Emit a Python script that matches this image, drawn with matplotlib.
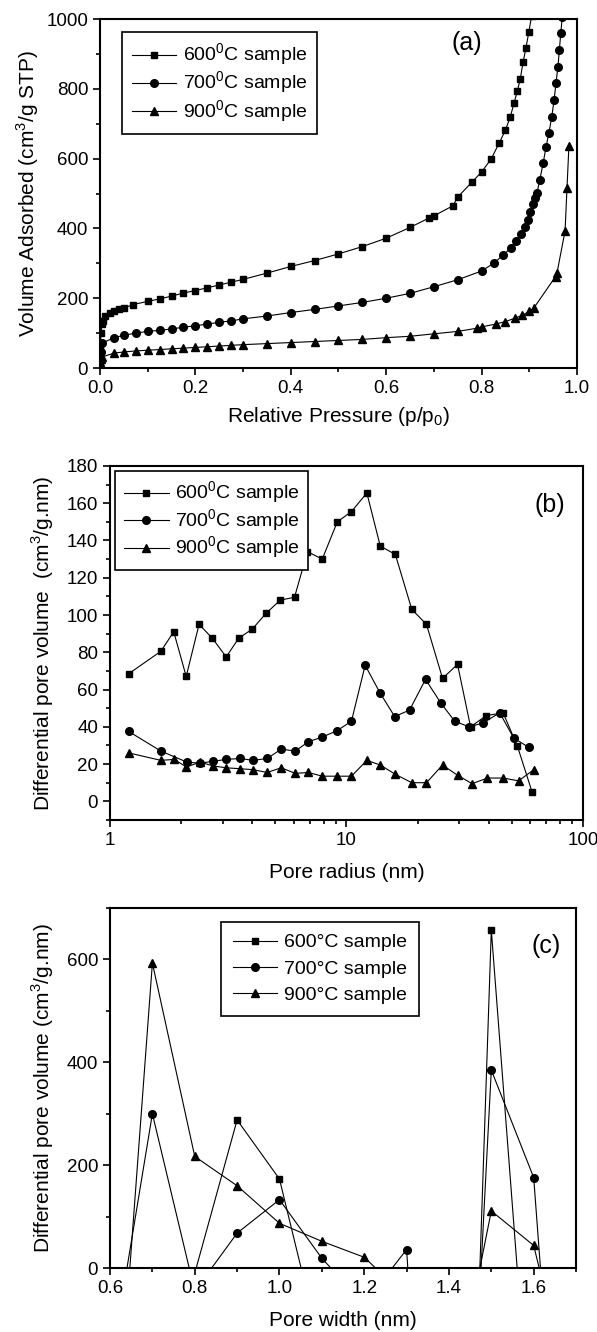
import matplotlib
matplotlib.use("Agg")
import matplotlib.pyplot as plt
from matplotlib.ticker import MultipleLocator, FuncFormatter

plt.rcParams["font.family"] = ["Liberation Sans", "DejaVu Sans"]
plt.rcParams["mathtext.fontset"] = "custom"
plt.rcParams["mathtext.rm"] = "Liberation Sans"

# ---- (a) N2 isotherms ----
p600 = [0.001, 0.002, 0.004, 0.006, 0.01, 0.02, 0.03, 0.04, 0.05, 0.07, 0.1, 0.125, 0.15,
        0.175, 0.2, 0.225, 0.25, 0.275, 0.3, 0.35, 0.4, 0.45, 0.5, 0.55, 0.6, 0.65, 0.69,
        0.7, 0.74, 0.75, 0.78, 0.8, 0.82, 0.837, 0.85, 0.86, 0.868, 0.875, 0.881, 0.887,
        0.893, 0.899, 0.905]
v600 = [60, 100, 125, 135, 148, 158, 163, 168, 172, 182, 191, 198, 206, 215, 222, 230, 238,
        246, 254, 272, 291, 308, 327, 348, 372, 403, 430, 436, 465, 490, 533, 562, 599, 645,
        682, 719, 759, 794, 828, 877, 917, 963, 1010]

p700 = [0.001, 0.003, 0.005, 0.03, 0.05, 0.075, 0.1, 0.125, 0.15, 0.175, 0.2, 0.225, 0.25,
        0.275, 0.3, 0.35, 0.4, 0.45, 0.5, 0.55, 0.6, 0.65, 0.7, 0.75, 0.8, 0.825, 0.845,
        0.862, 0.873, 0.882, 0.89, 0.897, 0.902, 0.907, 0.912, 0.916, 0.922, 0.929, 0.935,
        0.941, 0.947, 0.952, 0.956, 0.96, 0.963, 0.966, 0.969]
v700 = [20, 45, 72, 87, 94, 100, 105, 108, 112, 117, 121, 126, 131, 135, 141, 149, 159, 168,
        178, 188, 200, 214, 233, 253, 278, 300, 323, 345, 365, 383, 405, 425, 448, 470, 488,
        501, 539, 587, 633, 673, 719, 768, 817, 863, 911, 960, 1005]

p900 = [0.001, 0.003, 0.005, 0.03, 0.05, 0.075, 0.1, 0.125, 0.15, 0.175, 0.2, 0.225, 0.25,
        0.275, 0.3, 0.35, 0.4, 0.45, 0.5, 0.55, 0.6, 0.65, 0.7, 0.75, 0.79, 0.8, 0.83, 0.85,
        0.87, 0.885, 0.9, 0.91, 0.955, 0.958, 0.975, 0.979, 0.983]
v900 = [18, 25, 32, 43, 46, 49, 51, 53, 55, 57, 59, 61, 63, 65, 67, 70, 73, 76, 79, 82, 87,
        91, 98, 105, 114, 118, 126, 133, 143, 151, 162, 173, 262, 272, 393, 515, 635]

# ---- (b) BJH pore size distribution ----
r600 = [1.2, 1.64, 1.86, 2.1, 2.38, 2.71, 3.1, 3.5, 4.0, 4.58, 5.25, 6.03, 6.84, 7.9, 9.15,
        10.5, 12.2, 13.9, 16.1, 18.9, 21.8, 25.5, 29.5, 33.5, 39.0, 46.0, 52.9, 61.0]
d600 = [68.5, 80.5, 91, 67, 95, 87.5, 77.5, 87.5, 92.5, 101, 108, 109.5, 134, 130, 150,
        155.5, 165.5, 137, 132.5, 103, 95, 66, 73.5, 40, 46, 47.5, 29.5, 5]

r700 = [1.2, 1.64, 2.12, 2.41, 2.73, 3.1, 3.55, 4.03, 4.62, 5.3, 6.08, 6.9, 7.9, 9.15, 10.5,
        12.0, 13.9, 16.0, 18.5, 21.6, 25.0, 28.7, 33.0, 37.7, 44.5, 51.0, 59.0]
d700 = [37.5, 27, 21, 20.5, 21.5, 22.5, 23, 22, 23, 28, 27, 32, 34.5, 38, 43, 73, 58, 45.5,
        49, 65.5, 53, 43, 40, 42, 47.5, 34, 29]

r900 = [1.2, 1.64, 1.87, 2.1, 2.41, 2.73, 3.1, 3.55, 4.03, 4.62, 5.3, 6.08, 6.9, 7.9, 9.15,
        10.5, 12.2, 13.9, 16.1, 18.9, 21.8, 25.5, 29.5, 34.0, 39.5, 46.0, 53.5, 62.0]
d900 = [26, 22, 22.5, 18.5, 21, 19, 18, 17.5, 17, 15.5, 18, 15, 15.5, 13.5, 13.5, 13.5, 22,
        19.5, 14.5, 10, 10, 19.5, 14, 9.5, 12.5, 12.5, 11, 17]

# ---- (c) micropore distribution (lines run below zero between peaks) ----
width = [0.6, 0.7, 0.8, 0.9, 1.0, 1.1, 1.2, 1.3, 1.4, 1.5, 1.6, 1.7]
c600 = [-150, -80, -10, 288, 173, -166, -300, -500, -1776, 657, -420, -500]
c700 = [-200, 300, -45, 68, 133, 19, -70, 36, -1200, 385, 176, -924]
c900 = [-520, 593, 217, 160, 87, 52, 21, -57, -300, 111, 44, -294]

labels_sup = ["600$^0$C sample", "700$^0$C sample", "900$^0$C sample"]
labels_deg = ["600°C sample", "700°C sample", "900°C sample"]
markers = ["s", "o", "^"]

TICK = 13.5
LAB = 15

fig = plt.figure(figsize=(5.97, 13.32), dpi=100)
ax_a = fig.add_axes([0.1675, 0.7237, 0.799, 0.262])
ax_b = fig.add_axes([0.1843, 0.3844, 0.792, 0.2658])
ax_c = fig.add_axes([0.1843, 0.0480, 0.7806, 0.2703])


def style(ax):
    for s in ax.spines.values():
        s.set_linewidth(1.5)
    ax.tick_params(which="both", direction="out", top=False, right=False,
                   labelsize=TICK, width=1.2)
    ax.tick_params(which="major", length=5)
    ax.tick_params(which="minor", length=3)


def legend(ax, labels, anchor, spacing, pad):
    leg = ax.legend(labels, loc="upper left", bbox_to_anchor=anchor, borderaxespad=0,
                    fontsize=14, frameon=True, fancybox=False, edgecolor="black",
                    framealpha=1, handlelength=2.3, handletextpad=0.35,
                    labelspacing=spacing, borderpad=pad)
    leg.get_frame().set_linewidth(1.2)


# (a)
for x, y, m in zip([p600, p700, p900], [v600, v700, v900], markers):
    ax_a.plot(x, y, color="black", lw=0.8, marker=m, ms=5.5 if m != "s" else 5)
ax_a.set_xlim(0, 1)
ax_a.set_ylim(0, 1000)
ax_a.xaxis.set_major_locator(MultipleLocator(0.2))
ax_a.xaxis.set_minor_locator(MultipleLocator(0.1))
ax_a.yaxis.set_major_locator(MultipleLocator(200))
ax_a.yaxis.set_minor_locator(MultipleLocator(100))
ax_a.xaxis.set_major_formatter(FuncFormatter(lambda v, p: f"{v:.1f}"))
ax_a.set_xlabel("Relative Pressure (p/p$_0$)", fontsize=LAB, labelpad=6)
ax_a.set_ylabel("Volume Adsorbed (cm$^3$/g STP)", fontsize=LAB, labelpad=4)
ax_a.text(0.77, 0.93, "(a)", transform=ax_a.transAxes, fontsize=18, ha="center", va="center")
style(ax_a)
legend(ax_a, labels_sup, (0.046, 0.963), 0.08, 0.5)

# (b)
for x, y, m in zip([r600, r700, r900], [d600, d700, d900], markers):
    ax_b.plot(x, y, color="black", lw=0.8, marker=m, ms=5.5 if m != "s" else 5)
ax_b.set_xscale("log")
ax_b.set_xlim(1, 100)
ax_b.set_ylim(-10, 180)
ax_b.yaxis.set_major_locator(MultipleLocator(20))
ax_b.yaxis.set_minor_locator(MultipleLocator(10))
ax_b.xaxis.set_major_formatter(FuncFormatter(lambda v, p: f"{v:g}"))
ax_b.set_xlabel("Pore radius (nm)", fontsize=LAB, labelpad=10)
ax_b.set_ylabel("Differential pore volume  (cm$^3$/g.nm)", fontsize=LAB, labelpad=8)
ax_b.text(0.93, 0.89, "(b)", transform=ax_b.transAxes, fontsize=18, ha="center", va="center")
style(ax_b)
legend(ax_b, labels_sup, (0.0106, 0.986), 0.05, 0.45)

# (c)
for y, m in zip([c600, c700, c900], markers):
    ax_c.plot(width, y, color="black", lw=0.8, marker=m, ms=5.5 if m != "s" else 5)
ax_c.set_xlim(0.6, 1.7)
ax_c.set_ylim(0, 700)
ax_c.xaxis.set_major_locator(MultipleLocator(0.2))
ax_c.xaxis.set_minor_locator(MultipleLocator(0.1))
ax_c.yaxis.set_major_locator(MultipleLocator(200))
ax_c.yaxis.set_minor_locator(MultipleLocator(100))
ax_c.xaxis.set_major_formatter(FuncFormatter(lambda v, p: f"{v:.1f}"))
ax_c.set_xlabel("Pore width (nm)", fontsize=LAB, labelpad=10)
ax_c.set_ylabel("Differential pore volume (cm$^3$/g.nm)", fontsize=LAB, labelpad=8)
ax_c.text(0.935, 0.895, "(c)", transform=ax_c.transAxes, fontsize=18, ha="center", va="center")
style(ax_c)
legend(ax_c, labels_deg, (0.238, 0.961), 0.45, 0.6)

fig.savefig("out.png", dpi=100)
